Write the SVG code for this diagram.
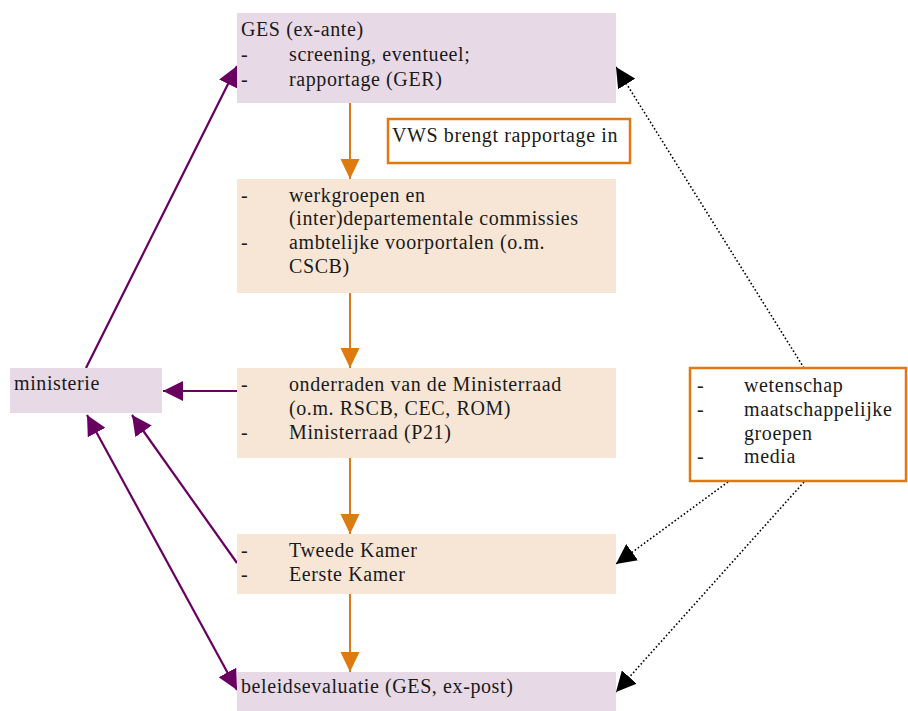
<svg xmlns="http://www.w3.org/2000/svg" width="908" height="711" viewBox="0 0 908 711">
<defs>
<style>
.t{font-family:"Liberation Serif","Times New Roman",serif;font-size:20px;letter-spacing:0.6px;fill:#1a1a1a}
.lav{fill:#e8d9e7}
.pea{fill:#f7e6d6}
.obox{fill:#ffffff;stroke:#e07a10;stroke-width:2.5}
.oarr{stroke:#dd7a10;stroke-width:2;fill:none}
.parr{stroke:#680060;stroke-width:2.2;fill:none}
.darr{stroke:#000;stroke-width:1.6;stroke-dasharray:1.6 2.2;fill:none}
</style>
<marker id="mo" markerUnits="userSpaceOnUse" markerWidth="20" markerHeight="21" refX="21" refY="10" orient="auto" viewBox="0 0 21 20">
<path d="M0,0 L21,10 L0,20 Z" fill="#dd7a10"/>
</marker>
<marker id="mp" markerUnits="userSpaceOnUse" markerWidth="20" markerHeight="20" refX="20" refY="10" orient="auto-start-reverse" viewBox="0 0 20 20">
<path d="M0,0 L20,10 L0,20 Z" fill="#680060"/>
</marker>
<marker id="mb" markerUnits="userSpaceOnUse" markerWidth="20" markerHeight="20" refX="20" refY="10" orient="auto" viewBox="0 0 20 20">
<path d="M0,0 L20,10 L0,20 Z" fill="#000"/>
</marker>
</defs>
<rect width="908" height="711" fill="#ffffff"/>
<g id="connectors">
<line class="oarr" x1="350" y1="103" x2="350" y2="179" marker-end="url(#mo)"/>
<line class="oarr" x1="350" y1="293" x2="350" y2="368" marker-end="url(#mo)"/>
<line class="oarr" x1="350" y1="458" x2="350" y2="534" marker-end="url(#mo)"/>
<line class="oarr" x1="350" y1="594" x2="350" y2="672" marker-end="url(#mo)"/>
<line class="parr" x1="86" y1="368" x2="237" y2="66" marker-end="url(#mp)"/>
<line class="parr" x1="237" y1="391" x2="163" y2="391" marker-end="url(#mp)"/>
<line class="parr" x1="237" y1="563" x2="132" y2="415" marker-end="url(#mp)"/>
<line class="parr" x1="87" y1="415" x2="237" y2="690" marker-start="url(#mp)" marker-end="url(#mp)"/>
<line class="darr" x1="804" y1="368" x2="616" y2="67" marker-end="url(#mb)"/>
<line class="darr" x1="728" y1="482" x2="616" y2="564" marker-end="url(#mb)"/>
<line class="darr" x1="804" y1="482" x2="616" y2="692" marker-end="url(#mb)"/>
</g>
<g id="ges">
<rect class="lav" x="237" y="13" width="379" height="90"/>
<text class="t" x="241" y="36">GES (ex-ante)</text>
<text class="t" x="241" y="61">-</text><text class="t" x="289" y="61">screening, eventueel;</text>
<text class="t" x="241" y="86">-</text><text class="t" x="289" y="86">rapportage (GER)</text>
</g>
<g id="vws">
<rect class="obox" x="388" y="119" width="242" height="44"/>
<text class="t" x="392" y="142">VWS brengt rapportage in</text>
</g>
<g id="werkgroepen">
<rect class="pea" x="237" y="179" width="379" height="114"/>
<text class="t" x="241" y="202">-</text><text class="t" x="289" y="202">werkgroepen en</text>
<text class="t" x="289" y="225">(inter)departementale commissies</text>
<text class="t" x="241" y="249">-</text><text class="t" x="289" y="249">ambtelijke voorportalen (o.m.</text>
<text class="t" x="289" y="273">CSCB)</text>
</g>
<g id="onderraden">
<rect class="pea" x="237" y="368" width="379" height="90"/>
<text class="t" x="241" y="391">-</text><text class="t" x="289" y="391">onderraden van de Ministerraad</text>
<text class="t" x="289" y="415">(o.m. RSCB, CEC, ROM)</text>
<text class="t" x="241" y="439">-</text><text class="t" x="289" y="439">Ministerraad (P21)</text>
</g>
<g id="kamer">
<rect class="pea" x="237" y="534" width="379" height="60"/>
<text class="t" x="241" y="557">-</text><text class="t" x="289" y="557">Tweede Kamer</text>
<text class="t" x="241" y="581">-</text><text class="t" x="289" y="581">Eerste Kamer</text>
</g>
<g id="beleidsevaluatie">
<rect class="lav" x="237" y="672" width="379" height="39"/>
<text class="t" x="241" y="693">beleidsevaluatie (GES, ex-post)</text>
</g>
<g id="ministerie">
<rect class="lav" x="10" y="368" width="152" height="45"/>
<text class="t" x="14" y="390">ministerie</text>
</g>
<g id="maatschappij">
<rect class="obox" x="690" y="368" width="216" height="113"/>
<text class="t" x="697" y="392">-</text><text class="t" x="744" y="392">wetenschap</text>
<text class="t" x="697" y="416">-</text><text class="t" x="744" y="416">maatschappelijke</text>
<text class="t" x="744" y="440">groepen</text>
<text class="t" x="697" y="463">-</text><text class="t" x="744" y="463">media</text>
</g>
</svg>
